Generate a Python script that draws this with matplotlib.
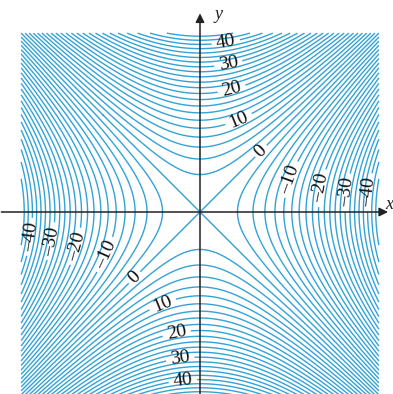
import numpy as np
import matplotlib.pyplot as plt

plt.rcParams['contour.negative_linestyle'] = 'solid'

# level curves of f(x, y) = y^2 - x^2
levels = list(range(-48, 49, 2))
label_levels = [-40, -30, -20, -10, 0, 10, 20, 30, 40]
# where the level labels sit (x, y)
label_pos = [(0.98, 6.38), (1.09, 5.47), (1.21, 4.57), (1.47, 3.47), (2.26, 2.34),
             (3.28, 1.28), (4.53, 0.91), (5.47, 0.75), (6.34, 0.75),
             (-6.42, -0.94), (-5.47, -1.13), (-4.60, -1.32), (-3.47, -1.66), (-2.45, -2.49),
             (-1.40, -3.51), (-0.87, -4.64), (-0.75, -5.51), (-0.64, -6.42)]

x_range = (-6.75, 6.75)
y_range = (-6.9, 6.75)

s = 26.5  # pixels per unit
W, H = 393, 394
x0, y0 = 200, 212
line_color = '#33a3d6'


def fmt_level(v):
    v = int(round(v))
    return ('\u2013%d' % -v) if v < 0 else '%d' % v


fig = plt.figure(figsize=(W / 100, H / 100), dpi=100)
ax = fig.add_axes([0, 0, 1, 1])
ax.set_xlim(-x0 / s, (W - x0) / s)
ax.set_ylim(-(H - y0) / s, y0 / s)
ax.axis('off')

x = np.linspace(*x_range, 800)
y = np.linspace(*y_range, 800)
X, Y = np.meshgrid(x, y)
Z = Y**2 - X**2

plain = [v for v in levels if v not in label_levels]
ax.contour(X, Y, Z, levels=plain, colors=line_color, linewidths=1.0)
cs = ax.contour(X, Y, Z, levels=label_levels, colors=line_color, linewidths=1.0)
labels = ax.clabel(cs, manual=label_pos, inline=True, inline_spacing=2,
                   fmt=fmt_level, fontsize=14, colors='#111111')
for t in labels:
    t.set_family('Liberation Serif')

# axes with arrows
arrow = dict(arrowstyle='-|>', color='#222222', lw=1.1, mutation_scale=13)
ax.annotate('', xy=(0, 7.6), xytext=(0, -7.0), arrowprops=arrow)
ax.annotate('', xy=(7.2, 0), xytext=(-7.6, 0), arrowprops=arrow)
ax.text(0.55, 7.45, 'y', fontsize=13, style='italic', family='Liberation Serif',
        ha='left', va='center', color='#222222')
ax.text(7.0, 0.3, 'x', fontsize=13, style='italic', family='Liberation Serif',
        ha='left', va='center', color='#222222')

fig.savefig('out.png', dpi=100)
